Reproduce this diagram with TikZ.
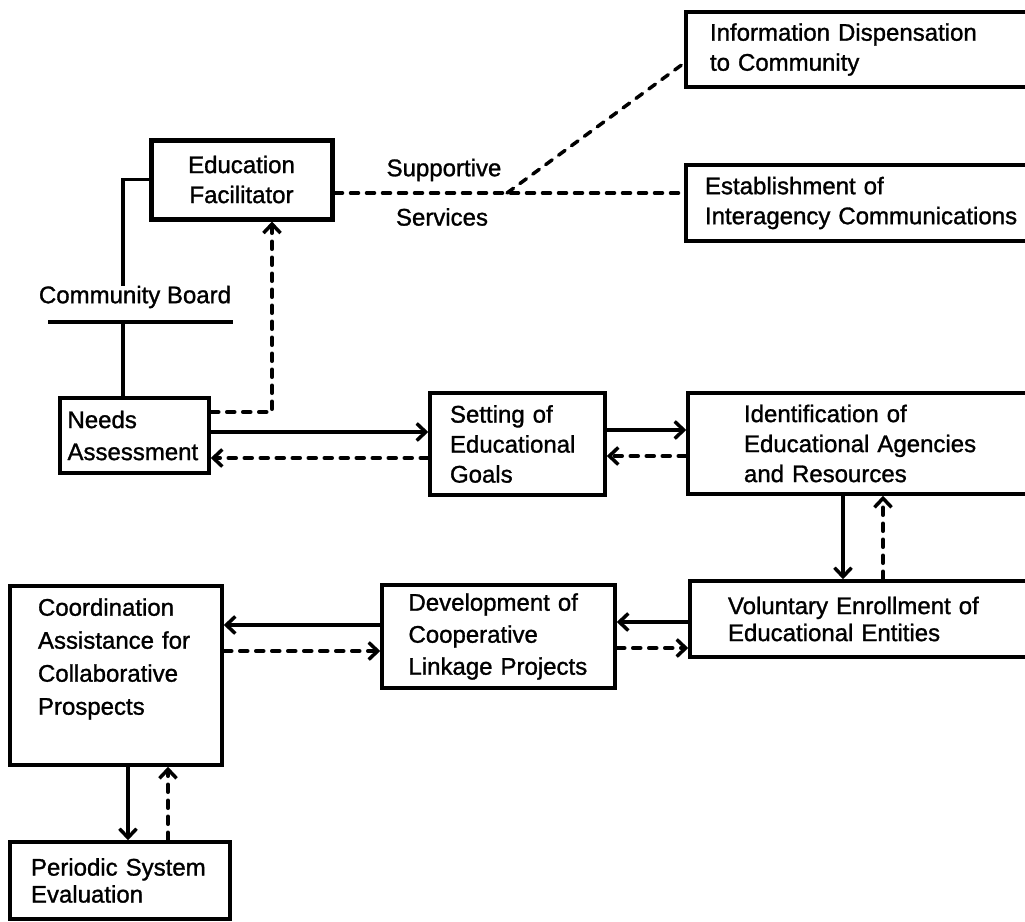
\documentclass[tikz,border=0pt]{standalone}
\usepackage{fontspec}
\setmainfont{Liberation Sans}[RawFeature={embolden=1.2}]
\usetikzlibrary{arrows.meta}

\begin{document}
\begin{tikzpicture}[x=1pt, y=-1pt, >={Straight Barb[length=9pt,width=17pt]}]
\tikzstyle{stage} = [rectangle, draw=black, line width=3.5pt, align=left, inner sep=0pt, font=\fontsize{24}{30}\selectfont]
\tikzstyle{link} = [line width=3.5pt]
\tikzstyle{back} = [line width=3.5pt, line cap=round, dash pattern=on 8pt off 8pt]
\tikzstyle{caption} = [inner sep=0pt, font=\fontsize{24}{30}\selectfont]
\useasboundingbox (0,0) rectangle (1025,921);
\clip (0,0) rectangle (1025,921);

\node (info)  [stage, minimum width=364pt, minimum height=75pt,  text width=316pt] at (868,49.5)  {Information Dispensation\\to Community};
\node (estab) [stage, minimum width=364pt, minimum height=76pt,  text width=326pt] at (868,203)   {Establishment of\\Interagency Communications};
\node (facil) [stage, align=center, line width=5pt, minimum width=181pt, minimum height=79pt] at (241.5,179.5) {Education\\Facilitator};
\node (needs) [stage, minimum width=149pt, minimum height=75pt,  text width=134pt, font=\fontsize{24}{32}\selectfont] at (134.5,435.5) {Needs\\Assessment};
\node (setg)  [stage, minimum width=175pt, minimum height=102pt, text width=135pt] at (517.5,444)  {Setting of\\Educational\\Goals};
\node (ident) [stage, minimum width=362pt, minimum height=101pt, text width=250pt] at (869,443.5)  {Identification of\\Educational Agencies\\and Resources};
\node (vol)   [stage, minimum width=360pt, minimum height=76pt,  text width=284pt, font=\fontsize{24}{27}\selectfont] at (870,619) {Voluntary Enrollment of\\Educational Entities};
\node (dev)   [stage, minimum width=233pt, minimum height=103pt, text width=180pt, font=\fontsize{24}{32}\selectfont] at (498.5,636.5) {Development of\\Cooperative\\Linkage Projects};
\node (coord) [stage, minimum width=212pt, minimum height=179pt, text width=156pt, font=\fontsize{24}{33}\selectfont] at (116,675.5) {Coordination\\Assistance for\\Collaborative\\Prospects\\[5pt]\mbox{}};
\node (eval)  [stage, minimum width=220pt, minimum height=77pt,  text width=178pt, font=\fontsize{24}{27}\selectfont] at (120,880.5) {Periodic System\\Evaluation};

\node (board) [caption] at (135,297) {Community Board};
\node (sup)   [caption] at (444,170) {Supportive};
\node (serv)  [caption] at (442,217) {Services};

% community board line
\coordinate (bl) at (48,322);
\coordinate (br) at (233,322);
\coordinate (bx) at (123,322);
\draw [link] (bl) -- (br);
\draw [link] (facil.west) -| (board.north -| bx);
\draw [link] (bx) -- (bx |- needs.north);

% supportive services
\coordinate (junc) at (507,193);
\draw [back] ([yshift=-13.5pt]facil.east) -- (junc) -- (junc -| estab.west);
\draw [back] (junc) -- ([yshift=-13.5pt]info.west);

\draw [back, ->] ([yshift=23.5pt]needs.east) -| ([xshift=30.5pt]facil.south);

\draw [link, ->] ([yshift=3.5pt]needs.east) -- ([yshift=3.5pt]needs.east -| setg.west);
\draw [back, ->] ([yshift=-22.5pt]needs.east -| setg.west) -- ([yshift=-22.5pt]needs.east);

\draw [link, ->] ([yshift=14pt]setg.east) -- ([yshift=14pt]setg.east -| ident.west);
\draw [back, ->] ([yshift=-12pt]setg.east -| ident.west) -- ([yshift=-12pt]setg.east);

\draw [link, ->] ([xshift=-26pt]ident.south) -- ([xshift=-26pt]ident.south |- vol.north);
\draw [back, ->] ([xshift=14pt]ident.south |- vol.north) -- ([xshift=14pt]ident.south);

\draw [link, ->] ([yshift=-3pt]vol.west) -- ([yshift=-3pt]vol.west -| dev.east);
\draw [back, ->] ([yshift=-29pt]vol.west -| dev.east) -- ([yshift=-29pt]vol.west);

\draw [link, ->] ([yshift=11.5pt]dev.west) -- ([yshift=11.5pt]dev.west -| coord.east);
\draw [back, ->] ([yshift=-14.5pt]dev.west -| coord.east) -- ([yshift=-14.5pt]dev.west);

\draw [link, ->] ([xshift=12pt]coord.south) -- ([xshift=12pt]coord.south |- eval.north);
\draw [back, ->] ([xshift=52pt]coord.south |- eval.north) -- ([xshift=52pt]coord.south);

\end{tikzpicture}
\end{document}
